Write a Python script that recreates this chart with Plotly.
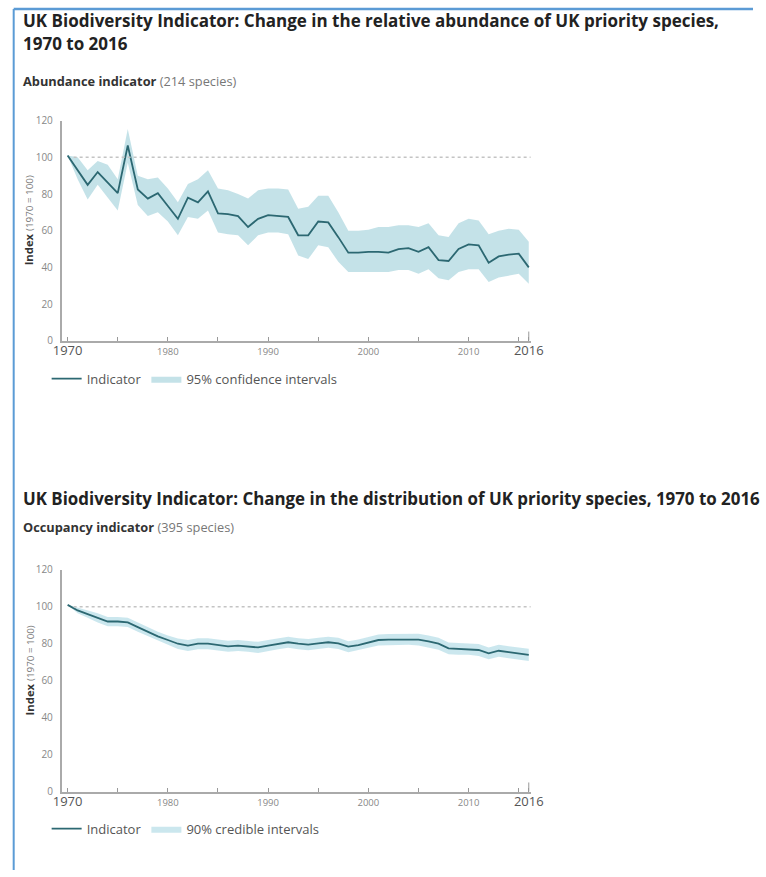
import plotly.graph_objects as go

W, H = 766, 877
# the captured picture is slightly scaled/offset relative to the page; positions
# below are given in picture pixels and mapped back to page/paper fractions
SX, BX = 0.973, 7.3
SY, BY = 0.984, 8.3

years = list(range(1970, 2017))

abundance = [101, 93, 85, 92, 86, 80.5, 106.5, 82.5, 77.5, 80.5,
             73.5, 66.5, 78, 75.5, 81.5, 69.5, 69, 68, 62, 66.5,
             68.5, 68, 67.5, 57.5, 57.5, 65, 64.5, 56.5, 48, 48,
             48.5, 48.5, 48, 50, 50.5, 48.5, 51, 44, 43.5, 50,
             52.5, 52, 42.5, 46, 47, 47.5, 40]
abundance_upper = [101, 100, 93, 98, 96, 88, 115.5, 90, 88, 89,
                   83, 75.5, 85.5, 88, 93, 83, 82, 80, 77.5, 82,
                   83, 83, 82.5, 72, 73, 79, 79, 70, 60, 60,
                   60.5, 62, 62, 63, 63, 62, 64, 57.5, 56.5, 64,
                   66.5, 65.5, 58, 60, 61, 60.5, 54]
abundance_lower = [101, 88, 77, 85, 78, 71, 97, 74, 68, 70,
                   65, 57.5, 67.5, 66.5, 71, 59, 58, 57.5, 52, 57.5,
                   59, 59, 58, 46.5, 44.5, 52, 51, 43, 37.5, 37.5,
                   37.5, 37.5, 37.5, 38.5, 38.5, 36.5, 39, 34, 33, 37.5,
                   39, 39, 32, 34.5, 35.5, 36.5, 31]

occupancy = [101, 98, 96, 94, 92, 92, 91.5, 89, 86.5, 84,
             82, 80, 79, 80, 80, 79.3, 78.6, 79, 78.6, 78,
             79, 80, 80.8, 80, 79.5, 80.2, 80.8, 80.2, 78.4, 79.3,
             80.8, 82, 82.2, 82.2, 82.5, 82.2, 81.3, 80, 77.5, 77.2,
             77.2, 76.6, 74.8, 76.2, 75.4, 74.5, 74]
occupancy_upper = [101, 99.5, 98, 96.5, 94.5, 94.5, 94, 91.5, 89, 86.5,
                   84.5, 82.8, 82, 83, 83, 82.3, 81.6, 82, 81.6, 81,
                   82, 83, 83.8, 83, 82.5, 83.2, 83.8, 83.2, 81.4, 82.3,
                   83.8, 85, 85.2, 85.3, 85.6, 85.4, 84.5, 83.2, 80.7, 80.4,
                   80.4, 79.8, 78, 79.5, 78.7, 77.8, 77.3]
occupancy_lower = [101, 96.5, 94, 91.5, 89.5, 89.5, 89, 86.5, 84, 81.5,
                   79.5, 77.2, 76, 77, 77, 76.3, 75.6, 76, 75.6, 75,
                   76, 77, 77.8, 77, 76.5, 77.2, 77.8, 77.2, 75.4, 76.3,
                   77.8, 79, 79.2, 79.1, 79.4, 79, 78.1, 76.8, 74.3, 74,
                   74, 73.4, 71.6, 72.9, 72.1, 71.2, 70.7]

x_tickvals = [1970, 1975, 1980, 1985, 1990, 1995, 2000, 2005, 2010, 2015, 2016]
x_ticklabels = ["1970", "", "1980", "", "1990", "", "2000", "", "2010", "", "2016"]
y_tickvals = [0, 20, 40, 60, 80, 100, 120]

title1_line1 = "UK Biodiversity Indicator: Change in the relative abundance of UK priority species,"
title1_line2 = "1970 to 2016"
subtitle1 = ("Abundance indicator", "(214 species)")
title2 = "UK Biodiversity Indicator: Change in the distribution of UK priority species, 1970 to 2016"
subtitle2 = ("Occupancy indicator", "(395 species)")
band1_name = "95% confidence intervals"
band2_name = "90% credible intervals"

LINE = "#2c6872"
BAND1 = "rgba(160,208,218,0.62)"
BAND2 = "rgba(160,212,224,0.55)"
FONT = "Open Sans"


def px_x(p):
    return ((p - BX) / SX) / W


def px_y(p):
    return 1 - ((p - BY) / SY) / H


def fmt_tick(t):
    if t in ("1970", "2016"):
        return "<span style='font-size:13px;color:#555'>%s</span>" % t
    return t


fig = go.Figure()

fig.add_trace(go.Scatter(
    x=years + years[::-1], y=abundance_upper + abundance_lower[::-1],
    fill="toself", fillcolor=BAND1, line=dict(width=0), mode="lines",
    name=band1_name, xaxis="x", yaxis="y", legend="legend", legendrank=2,
    hoverinfo="skip"))
fig.add_trace(go.Scatter(
    x=years, y=abundance, mode="lines", line=dict(color=LINE, width=1.8),
    name="Indicator", xaxis="x", yaxis="y", legend="legend", legendrank=1))

fig.add_trace(go.Scatter(
    x=years + years[::-1], y=occupancy_upper + occupancy_lower[::-1],
    fill="toself", fillcolor=BAND2, line=dict(width=0), mode="lines",
    name=band2_name, xaxis="x2", yaxis="y2", legend="legend2", legendrank=2,
    hoverinfo="skip"))
fig.add_trace(go.Scatter(
    x=years, y=occupancy, mode="lines", line=dict(color=LINE, width=1.8),
    name="Indicator", xaxis="x2", yaxis="y2", legend="legend2", legendrank=1))

xaxis_common = dict(
    range=[1969.4, 2016.2], tickvals=x_tickvals,
    ticktext=[fmt_tick(t) for t in x_ticklabels],
    ticks="inside", ticklen=4, tickcolor="#999", tickwidth=1,
    showline=True, linecolor="#aaaaaa", linewidth=1.5,
    showgrid=False, zeroline=False, fixedrange=True,
    tickfont=dict(family=FONT, size=9.5, color="#888"),
    ticklabelstandoff=1,
)
yaxis_common = dict(
    range=[0, 120], tickvals=y_tickvals, ticks="",
    showline=True, linecolor="#aaaaaa", linewidth=1.5,
    showgrid=False, zeroline=False, fixedrange=True,
    tickfont=dict(family=FONT, size=10, color="#888"),
    ticklabelstandoff=5,
)

dom_x = [px_x(60), px_x(530)]
legend_common = dict(orientation="h", yanchor="middle", xanchor="left",
                     font=dict(family=FONT, size=13, color="#555"),
                     itemwidth=30, bgcolor="rgba(0,0,0,0)", tracegroupgap=0)
fig.update_layout(
    width=W, height=H, margin=dict(l=0, r=0, t=0, b=0),
    paper_bgcolor="white", plot_bgcolor="white",
    font=dict(family=FONT, color="#333"),
    xaxis=dict(domain=dom_x, anchor="y", **xaxis_common),
    yaxis=dict(domain=[px_y(342), px_y(122)], anchor="x", **yaxis_common),
    xaxis2=dict(domain=dom_x, anchor="y2", **xaxis_common),
    yaxis2=dict(domain=[px_y(793), px_y(571)], anchor="x2", **yaxis_common),
    legend=dict(x=px_x(45), y=px_y(380), **legend_common),
    legend2=dict(x=px_x(45), y=px_y(830), **legend_common),
    showlegend=True,
)

shapes = []
for xr, yr in (("x", "y"), ("x2", "y2")):
    shapes.append(dict(type="line", xref=xr, yref=yr, x0=1970.6, x1=2016.2,
                       y0=100, y1=100, line=dict(color="#c4c4c4", width=1.5, dash="dot")))
    shapes.append(dict(type="line", xref=xr, yref=yr, x0=2016, x1=2016,
                       y0=0, y1=5, line=dict(color="#999", width=1)))
top_y = 1 - 2.0 / H
shapes.append(dict(type="line", xref="paper", yref="paper", x0=px_x(12), x1=1,
                   y0=top_y, y1=top_y, line=dict(color="#5b9bd5", width=2.5)))
shapes.append(dict(type="line", xref="paper", yref="paper", x0=px_x(12), x1=px_x(12),
                   y0=0, y1=top_y, line=dict(color="#5b9bd5", width=2)))
fig.update_layout(shapes=shapes)

ann = []


def text_ann(text, x, y, size, color="#222", bold=False):
    ann.append(dict(text=("<b>%s</b>" % text) if bold else text,
                    x=px_x(x), y=px_y(y), xref="paper", yref="paper",
                    xanchor="left", yanchor="middle", showarrow=False,
                    font=dict(family=FONT, size=size, color=color)))


text_ann(title1_line1, 19, 22, 17, bold=True)
text_ann(title1_line2, 19, 45, 17, bold=True)
text_ann("<b>%s</b> <span style='color:#777;font-weight:normal'>%s</span>" % subtitle1,
         19, 82, 12.8, color="#333")
text_ann(title2, 19, 500, 16.9, bold=True)
text_ann("<b>%s</b> <span style='color:#777;font-weight:normal'>%s</span>" % subtitle2,
         19, 528, 12.8, color="#333")

for yc, xc in ((222, 27), (672, 28)):
    ann.append(dict(text="<b>Index</b> <span style='font-size:9.8px;color:#777'>(1970 = 100)</span>",
                    x=px_x(xc), y=px_y(yc), xref="paper", yref="paper",
                    xanchor="center", yanchor="middle", textangle=-90,
                    showarrow=False, font=dict(family=FONT, size=11.3, color="#333")))
fig.update_layout(annotations=ann)

fig.write_html("out.html", config={"responsive": False, "displayModeBar": False},
               post_script="document.body.style.margin='0';document.body.style.overflow='hidden';")
